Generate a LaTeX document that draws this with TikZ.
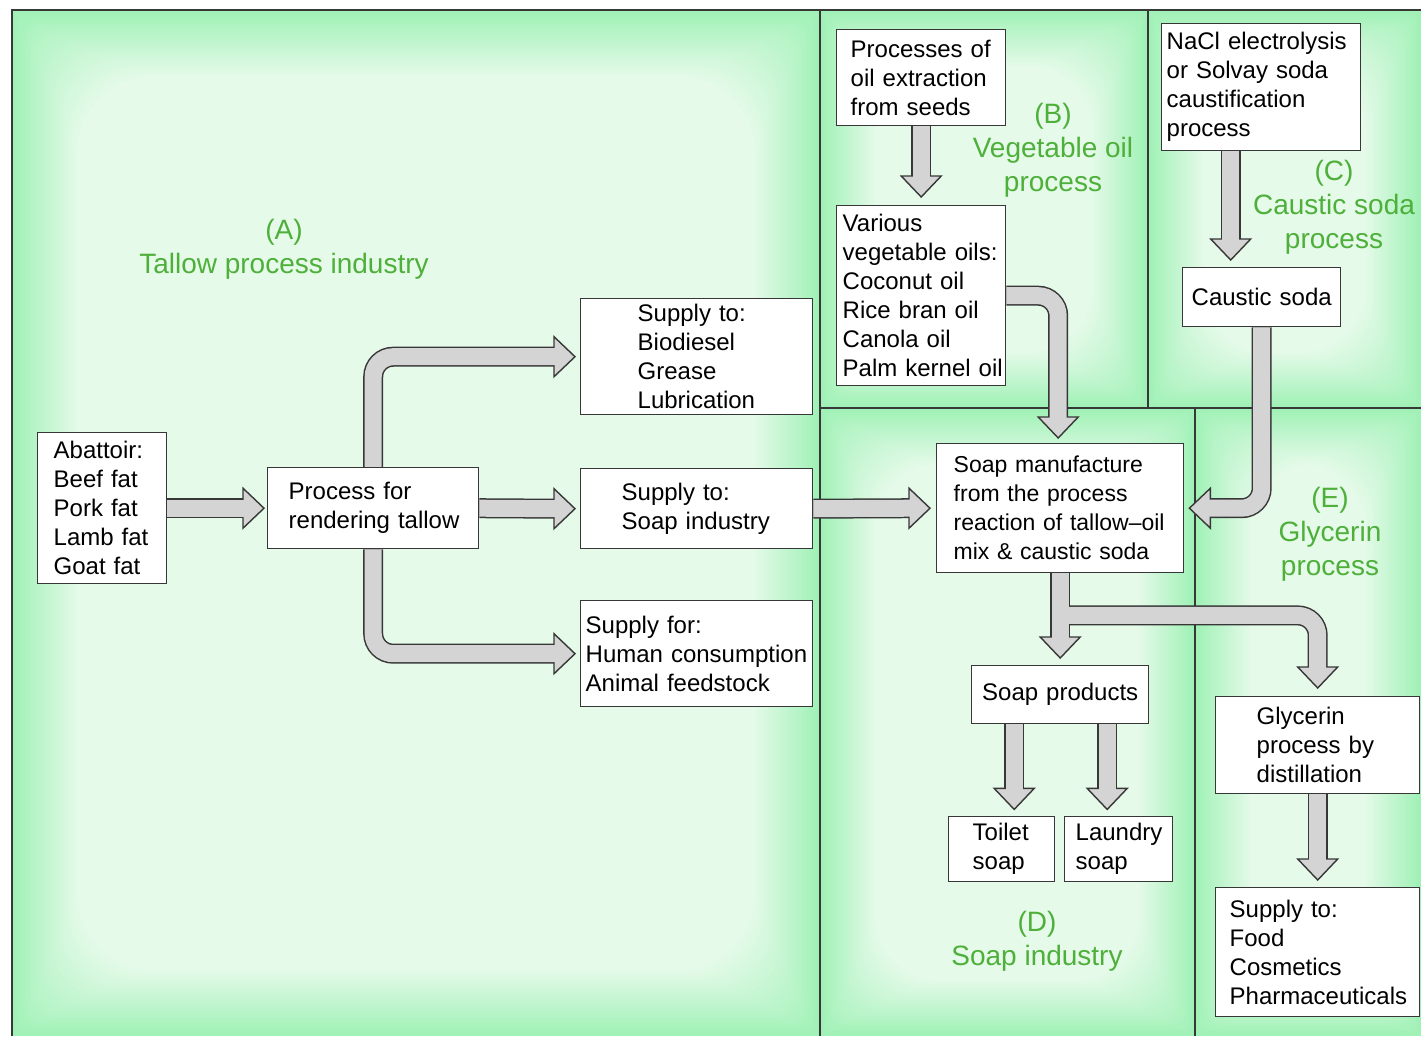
\documentclass[tikz,border=0pt]{standalone}
\usepackage{fontspec}
\setmainfont{Liberation Sans}
\usetikzlibrary{calc}
\definecolor{glowout}{RGB}{160,241,182}
\definecolor{glowin}{RGB}{229,250,233}
\definecolor{lbl}{RGB}{78,176,58}
\definecolor{arrfill}{RGB}{212,212,212}
\definecolor{edgec}{RGB}{55,55,55}
\pgfdeclarelayer{bg}
\pgfdeclarelayer{arr}
\pgfsetlayers{bg,arr,main}

\newcommand\glowpanel[5]{%
 \foreach \i in {0,...,24}{%
   \pgfmathsetmacro\dd{#5*\i/24}%
   \pgfmathtruncatemacro\pp{100*\i/24}%
   \pgfmathsetmacro\rr{1.2*\dd}%
   \fill[glowin!\pp!glowout, rounded corners=\rr pt] ({#1+\dd},{#2+\dd}) rectangle ({#3-\dd},{#4-\dd});
 }}

\newcommand\fatarrowx[4]{%
 \draw[arrout] #1 ($(#3)+(#4+180:20)$);
 \filldraw[arrhead] (#3) -- ($(#3)+(#4+180:21)+(#4+90:20)$) -- ($(#3)+(#4+180:21)+(#4-90:20)$) -- cycle;
 \draw[arrin] #2 ($(#3)+(#4+180:18)$);
}
\newcommand\fatarrow[3]{\fatarrowx{#1}{#1}{#2}{#3}}

\tikzset{
  box/.style={draw=edgec, fill=white, line width=1.4pt, anchor=north west, inner sep=0pt, align=left, font=\fontsize{24}{29}\selectfont},
  lab/.style={text=lbl, align=center, font=\fontsize{28}{34}\selectfont},
  pline/.style={draw=edgec, line width=1.5pt},
  arrout/.style={draw=edgec, line width=20pt, rounded corners=20pt},
  arrin/.style={draw=arrfill, line width=17pt, rounded corners=20pt},
  arrhead/.style={fill=arrfill, draw=edgec, line width=1.4pt, line join=miter},
}

\begin{document}
\begin{tikzpicture}[x=1pt,y=-1pt]
\useasboundingbox (0,0) rectangle (1421,1036);

\begin{pgfonlayer}{bg}
\fill[white] (0,0) rectangle (1421,1036);
\glowpanel{12}{10}{820}{1036}{65}
\glowpanel{820}{10}{1148}{408}{55}
\glowpanel{1148}{10}{1421}{408}{55}
\glowpanel{820}{408}{1195}{1036}{55}
\glowpanel{1195}{408}{1421}{1036}{55}
\draw[pline] (12,1036) -- (12,10) -- (1421,10);
\draw[pline] (820,10) -- (820,1036);
\draw[pline] (1148,10) -- (1148,408);
\draw[pline] (820,408) -- (1421,408);
\draw[pline] (1195,408) -- (1195,1036);
\end{pgfonlayer}

% boxes
\node[box, minimum width=129pt, minimum height=151pt, text width=129pt] (aba) at (37,432)
  {\leftskip=16pt Abattoir:\\Beef fat\\Pork fat\\Lamb fat\\Goat fat\par};
\node[box, minimum width=211pt, minimum height=81pt, text width=211pt] (proc) at (267,467)
  {\leftskip=21pt Process for\\rendering tallow\par};
\node[box, minimum width=232pt, minimum height=116pt, text width=232pt] (sup1) at (580,298)
  {\leftskip=57pt Supply to:\\Biodiesel\\Grease\\Lubrication\par};
\node[box, minimum width=232pt, minimum height=80pt, text width=232pt] (sup2) at (580,468)
  {\leftskip=41pt Supply to:\\Soap industry\par};
\node[box, minimum width=232pt, minimum height=106pt, text width=232pt] (sup3) at (580,600)
  {\leftskip=5pt Supply for:\\Human consumption\\Animal feedstock\par};
\node[box, minimum width=169pt, minimum height=96pt, text width=169pt] (ext) at (836,29)
  {\leftskip=14pt Processes of\\oil extraction\\from seeds\par};
\node[box, minimum width=169pt, minimum height=180pt, text width=169pt] (veg) at (836,205)
  {\leftskip=6pt Various\\vegetable oils:\\Coconut oil\\Rice bran oil\\Canola oil\\Palm kernel oil\par};
\node[box, minimum width=199pt, minimum height=127pt, text width=199pt] (nacl) at (1161,23)
  {\leftskip=5pt NaCl electrolysis\\or Solvay soda\\caustification\\process\par};
\node[box, align=center, minimum width=158pt, minimum height=59pt, text width=158pt] (caus) at (1182,267)
  {Caustic soda};
\node[box, minimum width=247pt, minimum height=129pt, text width=247pt, font=\fontsize{23}{29}\selectfont] (soap) at (936,443)
  {\leftskip=17pt Soap manufacture\\from the process\\reaction of tallow--oil\\mix \& caustic soda\par};
\node[box, align=center, minimum width=177pt, minimum height=58pt, text width=177pt] (prod) at (971,665)
  {Soap products};
\node[box, minimum width=106pt, minimum height=65pt, text width=106pt] (toil) at (948,816)
  {\leftskip=24pt Toilet\\soap\par};
\node[box, minimum width=108pt, minimum height=65pt, text width=108pt] (laun) at (1064,816)
  {\leftskip=11pt Laundry\\soap\par};
\node[box, minimum width=204pt, minimum height=97pt, text width=204pt] (gly) at (1215,696)
  {\leftskip=41pt Glycerin\\process by\\distillation\par};
\node[box, minimum width=204pt, minimum height=129pt, text width=204pt] (food) at (1215,887)
  {\leftskip=14pt Supply to:\\Food\\Cosmetics\\Pharmaceuticals\par};

% labels
\node[lab] (labA) at (284,249) {(A)\\Tallow process industry};
\node[lab] (labB) at (1053,150) {(B)\\Vegetable oil\\process};
\node[lab] (labC) at (1334,207) {(C)\\Caustic soda\\process};
\node[lab] (labD) at (1037,941) {(D)\\Soap industry};
\node[lab] (labE) at (1330,534) {(E)\\Glycerin\\process};

% arrow tips
\coordinate (t1) at ($(proc.west)+(-3,0)$);
\coordinate (t2) at ($(sup2.west)+(-5,0)$);
\coordinate (t3) at ($(sup1.west)+(-5,0)$);
\coordinate (t4) at ($(sup3.west)+(-5,0)$);
\coordinate (t5) at ($(soap.west)+(-6,0)$);
\coordinate (t6) at ($(soap.north)+(-2,-5)$);
\coordinate (t7) at ($(soap.east)+(5,0)$);
\coordinate (t8) at ($(caus.north)+(-31,-7)$);
\coordinate (t9) at ($(veg.north)+(0,-8)$);
\coordinate (t10) at ($(prod.north)+(0,-7)$);
\coordinate (t11) at ($(gly.north)+(0,-8)$);
\coordinate (t12) at ($(prod.south)+(-46,85)$);
\coordinate (t13) at ($(prod.south)+(47,85)$);
\coordinate (t14) at ($(food.north)+(0,-7)$);
\coordinate (br) at ($(soap.south)+(0,42)$);

\begin{pgfonlayer}{arr}
\fatarrow{(aba.east) --}{t1}{0}
\fatarrow{(proc.east) --}{t2}{0}
\fatarrow{(proc.north) |-}{t3}{0}
\fatarrow{(proc.south) |-}{t4}{0}
\fatarrow{(sup2.east) --}{t5}{0}
\fatarrow{(veg.east) -|}{t6}{90}
\fatarrow{(caus.south) |-}{t7}{180}
\fatarrow{(nacl.south -| t8) --}{t8}{90}
\fatarrow{(ext.south) --}{t9}{90}
\fatarrow{(soap.south) --}{t10}{90}
\fatarrowx{($(br)+(9,0)$) -|}{(br) -|}{t11}{90}
\fatarrow{(prod.south -| t12) --}{t12}{90}
\fatarrow{(prod.south -| t13) --}{t13}{90}
\fatarrow{(gly.south) --}{t14}{90}
\end{pgfonlayer}
\end{tikzpicture}
\end{document}
